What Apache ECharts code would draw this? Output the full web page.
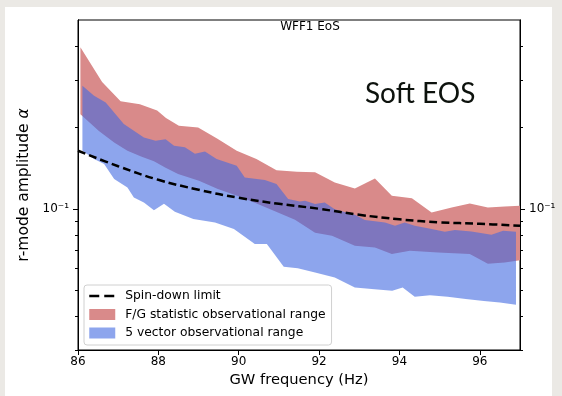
<!DOCTYPE html>
<html><head><meta charset="utf-8">
<script src="https://cdn.jsdelivr.net/npm/echarts@6/dist/echarts.min.js"></script>
<style>
html,body{margin:0;padding:0;background:#ebe9e5;width:562px;height:396px;overflow:hidden;}
#bg{position:absolute;left:5px;top:7px;width:547px;height:389px;background:#fff;}
#c{position:absolute;left:0;top:0;width:562px;height:396px;}
</style></head>
<body><div id="bg"></div><div id="c"></div>
<script>
// F/G statistic band (upper and lower edges)
const fgUpperFreq = [86.06, 86.60, 87.06, 87.54, 87.97, 88.19, 88.51, 88.99, 89.46, 89.95, 90.44, 90.94, 91.45, 91.90, 92.39, 92.89, 93.39, 93.81, 94.31, 94.80, 95.30, 95.75, 96.20, 96.62, 97.00];
const fgUpper = [0.396, 0.295, 0.250, 0.244, 0.231, 0.217, 0.203, 0.200, 0.182, 0.164, 0.153, 0.139, 0.137, 0.1365, 0.125, 0.119, 0.1295, 0.1117, 0.1094, 0.0969, 0.1011, 0.1046, 0.1011, 0.102, 0.1026];
const fgLowerFreq = [86.06, 86.52, 86.90, 87.23, 87.57, 87.89, 88.18, 88.49, 89.01, 89.48, 89.96, 90.40, 90.93, 91.40, 91.90, 92.32, 92.89, 93.39, 93.81, 94.26, 94.96, 95.75, 96.20, 96.62, 97.00];
const fgLower = [0.224, 0.194, 0.176, 0.164, 0.156, 0.150, 0.142, 0.1345, 0.127, 0.1183, 0.1117, 0.1053, 0.0975, 0.0911, 0.0815, 0.0794, 0.0729, 0.0719, 0.068, 0.0699, 0.0689, 0.068, 0.0626, 0.0633, 0.0645];
// 5 vector band
const vecUpperFreq = [86.11, 86.40, 86.69, 87.14, 87.64, 87.93, 88.18, 88.39, 88.66, 88.91, 89.16, 89.45, 89.95, 90.15, 90.65, 90.94, 91.23, 91.52, 91.65, 91.90, 92.14, 92.39, 92.89, 93.14, 93.64, 93.89, 94.13, 94.38, 94.80, 95.13, 95.38, 95.79, 96.29, 96.58, 96.90];
const vecUpper = [0.2855, 0.262, 0.2476, 0.206, 0.1837, 0.1786, 0.181, 0.171, 0.169, 0.160, 0.163, 0.1528, 0.1443, 0.1306, 0.1277, 0.1234, 0.1086, 0.1064, 0.1071, 0.1041, 0.1055, 0.0997, 0.095, 0.0908, 0.089, 0.0865, 0.089, 0.0865, 0.0841, 0.0822, 0.0834, 0.0824, 0.0801, 0.0829, 0.0822];
const vecLowerFreq = [86.11, 86.40, 86.65, 86.90, 87.23, 87.39, 87.64, 87.89, 88.14, 88.41, 88.87, 89.41, 89.88, 90.40, 90.70, 91.12, 91.47, 91.90, 92.39, 92.89, 93.38, 93.82, 94.08, 94.38, 94.76, 95.20, 95.65, 96.10, 96.50, 96.90];
const vecLower = [0.164, 0.1528, 0.1464, 0.1288, 0.120, 0.110, 0.1055, 0.0987, 0.1043, 0.0975, 0.0916, 0.089, 0.0841, 0.074, 0.074, 0.061, 0.0602, 0.0581, 0.0557, 0.0511, 0.0504, 0.0497, 0.0511, 0.0472, 0.0478, 0.0472, 0.0463, 0.0456, 0.045, 0.0441];
// Spin-down limit
const spinFreq = [86, 87, 88, 89, 90, 91, 92, 93, 94, 95, 96, 97];
const spinLimit = [0.164, 0.1437, 0.128, 0.1176, 0.1098, 0.1043, 0.100, 0.095, 0.0914, 0.0891, 0.0880, 0.0865];
// Ticks
const xTicks = [86, 88, 90, 92, 94, 96];
const yMajorTicks = [0.1];
const yMinorTicks = [0.03, 0.04, 0.05, 0.06, 0.07, 0.08, 0.09, 0.2, 0.3, 0.4];

const FONT = 'DejaVu Sans';
const RED = '#d98a8a';
const BLUE = 'rgba(65,105,225,0.6)';

function bandRender(uf, uv, lf, lv, color) {
  return function (params, api) {
    const pts = [];
    for (let i = 0; i < uf.length; i++) pts.push(api.coord([uf[i], uv[i]]));
    for (let i = lf.length - 1; i >= 0; i--) pts.push(api.coord([lf[i], lv[i]]));
    return { type: 'polygon', shape: { points: pts }, style: { fill: color } };
  };
}

function yAx(pos, ticks, len, labels) {
  return {
    type: 'log', logBase: 10, min: 0.03, max: 0.5, position: pos,
    axisLine: { show: true, lineStyle: { color: '#000', width: 1 } },
    axisTick: { show: true, inside: false, length: len, customValues: ticks, lineStyle: { color: '#000', width: 1 } },
    axisLabel: {
      show: labels, customValues: yMajorTicks, margin: 9,
      fontFamily: FONT, fontSize: 12, color: '#000',
      formatter: v => (Math.abs(v - 0.1) < 1e-9 ? '10\u207B\u00B9' : '')
    },
    splitLine: { show: false }, minorTick: { show: false }
  };
}

const chart = echarts.init(document.getElementById('c'), null, { renderer: 'canvas' });
const yLeft = yAx('left', yMajorTicks, 5, true);
yLeft.name = 'r-mode amplitude {i|\u03B1}';
yLeft.nameLocation = 'middle';
yLeft.nameGap = 43;
yLeft.nameTextStyle = { fontFamily: FONT, fontSize: 15.5, color: '#000', rich: { i: { fontFamily: FONT, fontSize: 15.5, fontStyle: 'italic', color: '#000' } } };

chart.setOption({
  animation: false,
  grid: { left: 78, right: 42, top: 20, bottom: 46, show: true, borderColor: '#000', borderWidth: 1, containLabel: false },
  legend: {
    orient: 'vertical', left: 84, top: 285,
    itemWidth: 26, itemHeight: 11, itemGap: 6.5,
    padding: [5, 6, 6, 4],
    backgroundColor: 'rgba(255,255,255,0.85)', borderColor: '#d0d0d0', borderWidth: 1, borderRadius: 3,
    textStyle: { fontFamily: FONT, fontSize: 12.3, color: '#000', padding: [0, 0, 0, 5], lineHeight: 12 },
    data: [
      { name: 'Spin-down limit', itemStyle: { opacity: 0 }, lineStyle: { color: '#000', width: 2.5, type: [10, 5] } },
      { name: 'F/G statistic observational range', icon: 'rect' },
      { name: '5 vector observational range', icon: 'rect' }
    ]
  },
  xAxis: {
    type: 'value', min: 86, max: 97, interval: 2,
    name: 'GW frequency (Hz)', nameLocation: 'middle', nameGap: 21,
    nameTextStyle: { fontFamily: FONT, fontSize: 14.7, color: '#000' },
    axisLine: { show: true, lineStyle: { color: '#000', width: 1 } },
    axisTick: { show: true, length: 5, customValues: xTicks, lineStyle: { color: '#000' } },
    axisLabel: { customValues: xTicks, fontFamily: FONT, fontSize: 12, color: '#000', margin: 6 },
    splitLine: { show: false }
  },
  yAxis: [yLeft, yAx('left', yMinorTicks, 3, false), yAx('right', yMajorTicks, 5, true), yAx('right', yMinorTicks, 3, false)],
  series: [
    {
      type: 'custom', name: 'F/G statistic observational range', coordinateSystem: 'cartesian2d',
      xAxisIndex: 0, yAxisIndex: 0, itemStyle: { color: RED },
      renderItem: bandRender(fgUpperFreq, fgUpper, fgLowerFreq, fgLower, RED),
      data: [[fgUpperFreq[0], fgUpper[0]]], z: 1, silent: true
    },
    {
      type: 'custom', name: '5 vector observational range', coordinateSystem: 'cartesian2d',
      xAxisIndex: 0, yAxisIndex: 0, itemStyle: { color: BLUE },
      renderItem: bandRender(vecUpperFreq, vecUpper, vecLowerFreq, vecLower, BLUE),
      data: [[vecUpperFreq[0], vecUpper[0]]], z: 2, silent: true
    },
    {
      type: 'line', name: 'Spin-down limit', xAxisIndex: 0, yAxisIndex: 0,
      data: spinFreq.map((f, i) => [f, spinLimit[i]]),
      smooth: 0.4, symbol: 'none', showSymbol: false, z: 3,
      lineStyle: { color: '#000', width: 2.5, type: [8, 4] },
      itemStyle: { color: '#000' }
    }
  ],
  graphic: [
    { type: 'text', x: 310, y: 27, style: { text: 'WFF1 EoS', fontFamily: FONT, fontSize: 12, fill: '#000', align: 'center', verticalAlign: 'middle' } },
    { type: 'text', x: 365, y: 80, style: { text: 'Soft EOS', fontFamily: 'Lato', fontSize: 28, fill: '#0d120d', align: 'left', verticalAlign: 'alphabetic' } }
  ]
});
</script>
</body></html>
